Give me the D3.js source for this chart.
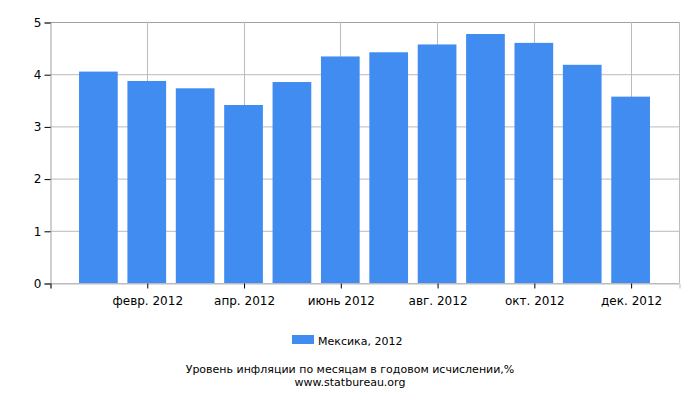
<!DOCTYPE html>
<html>
<head>
<meta charset="utf-8">
<script src="https://cdn.jsdelivr.net/npm/d3@7"></script>
<style>
  body { margin: 0; background: #fff; }
  svg { font-family: "DejaVu Sans", sans-serif; }
</style>
</head>
<body>
<svg width="700" height="400"></svg>
<script>
// data
const months = [1, 2, 3, 4, 5, 6, 7, 8, 9, 10, 11, 12];
const values = [4.05, 3.87, 3.73, 3.41, 3.85, 4.34, 4.42, 4.57, 4.77, 4.60, 4.18, 3.57];
const tickSlots = [0, 2, 4, 6, 8, 10, 12];
const tickLabels = ["", "февр. 2012", "апр. 2012", "июнь 2012", "авг. 2012", "окт. 2012", "дек. 2012"];
const yTicks = [0, 1, 2, 3, 4, 5];
const seriesName = "Мексика, 2012";

const svg = d3.select("svg"),
    width = +svg.attr("width"),
    height = +svg.attr("height");

const margin = {top: 22, right: 21, bottom: 117, left: 50};
const x0 = margin.left, x1 = width - margin.right;
const y0 = height - margin.bottom, y1 = margin.top;

const x = d3.scaleLinear().domain([0, 13]).range([x0, x1]);
const y = d3.scaleLinear().domain([0, 5]).range([y0, y1]);
const step = x(1) - x(0);
const barW = step * 0.8;

// grid
svg.append("g")
    .selectAll("line.h")
    .data(yTicks)
    .join("line")
      .attr("x1", x0).attr("x2", x1)
      .attr("y1", d => y(d) + 0.5).attr("y2", d => y(d) + 0.5)
      .attr("stroke", d => d === 5 ? "#a0a0a0" : "#bbbbbb");

svg.append("g")
    .selectAll("line.v")
    .data(tickSlots.filter(d => d > 0))
    .join("line")
      .attr("x1", d => Math.round(x(d)) + 0.5).attr("x2", d => Math.round(x(d)) + 0.5)
      .attr("y1", y1).attr("y2", y0)
      .attr("stroke", "#bbbbbb");

// right border
svg.append("line")
    .attr("x1", x1 + 0.5).attr("x2", x1 + 0.5)
    .attr("y1", y1).attr("y2", y0)
    .attr("stroke", "#bbbbbb");

// bars
svg.append("g")
    .selectAll("rect")
    .data(months)
    .join("rect")
      .attr("x", (d, i) => x(d) - barW / 2)
      .attr("width", barW)
      .attr("y", (d, i) => y(values[i]))
      .attr("height", (d, i) => y0 - y(values[i]))
      .attr("fill", "#418cf0");

// y axis
const yAxis = d3.axisLeft(y).tickValues(yTicks).tickSize(6).tickFormat(d3.format("d"));
svg.append("g")
    .attr("transform", `translate(${x0 + 0.5},0.5)`)
    .call(yAxis)
    .call(g => g.select(".domain").attr("stroke", "#a0a0a0"))
    .call(g => g.selectAll(".tick line").attr("stroke", "#000"))
    .call(g => g.selectAll("text").attr("font-size", 12).attr("fill", "#000").attr("font-family", "DejaVu Sans"));

// x axis
const xAxis = d3.axisBottom(x).tickValues(tickSlots).tickSize(5)
    .tickFormat((d, i) => tickLabels[i]);
svg.append("g")
    .attr("transform", `translate(0.5,${y0 + 0.5})`)
    .call(xAxis)
    .call(g => g.select(".domain").attr("stroke", "#bbbbbb"))
    .call(g => g.selectAll(".tick line").attr("stroke", "#000"))
    .call(g => g.selectAll("text").attr("font-size", 12).attr("fill", "#000").attr("dy", "1.1em").attr("font-family", "DejaVu Sans"));

// legend
const legend = svg.append("g");
legend.append("rect")
    .attr("x", 292).attr("y", 335).attr("width", 22).attr("height", 9)
    .attr("fill", "#418cf0");
legend.append("text")
    .attr("x", 318).attr("y", 345)
    .attr("font-size", 11)
    .text(seriesName);

// captions
svg.append("text")
    .attr("x", width / 2).attr("y", 373)
    .attr("text-anchor", "middle")
    .attr("font-size", 11)
    .text("Уровень инфляции по месяцам в годовом исчислении,%");
svg.append("text")
    .attr("x", width / 2).attr("y", 386)
    .attr("text-anchor", "middle")
    .attr("font-size", 11)
    .text("www.statbureau.org");
</script>
</body>
</html>
